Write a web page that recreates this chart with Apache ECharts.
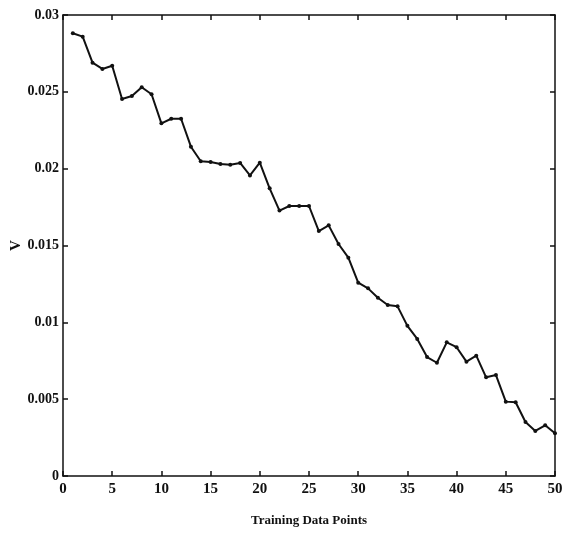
<!DOCTYPE html>
<html>
<head>
<meta charset="utf-8">
<script src="https://cdn.jsdelivr.net/npm/echarts@6/dist/echarts.min.js"></script>
<style>
  html, body { margin: 0; padding: 0; background: #fff; }
  #chart { width: 562px; height: 548px; }
</style>
</head>
<body>
<div id="chart"></div>
<script>
// V per training data point
const pointIndex = [
  1, 2, 3, 4, 5, 6, 7, 8, 9, 10,
  11, 12, 13, 14, 15, 16, 17, 18, 19, 20,
  21, 22, 23, 24, 25, 26, 27, 28, 29, 30,
  31, 32, 33, 34, 35, 36, 37, 38, 39, 40,
  41, 42, 43, 44, 45, 46, 47, 48, 49, 50
];
const vValues = [
  0.02881, 0.02859, 0.0269, 0.02649, 0.0267, 0.02453, 0.02473, 0.0253, 0.02484, 0.02295,
  0.02325, 0.02325, 0.02143, 0.02048, 0.02043, 0.0203, 0.02026, 0.02037, 0.01956, 0.02039,
  0.01872, 0.01727, 0.01757, 0.01757, 0.01757, 0.01594, 0.01631, 0.0151, 0.01421, 0.01258,
  0.01221, 0.0116, 0.01113, 0.01104, 0.00977, 0.00892, 0.00774, 0.00737, 0.0087, 0.00838,
  0.00744, 0.00783, 0.00642, 0.00657, 0.00484, 0.0048, 0.00351, 0.00293, 0.0033, 0.00278
];
const xTicks = [0, 50, 5];       // min, max, interval
const yTicks = [0, 0.03, 0.005];

const FONT = 'Liberation Serif';
const INK = '#111';

const chart = echarts.init(document.getElementById('chart'), null, { renderer: 'canvas' });

const axisCommon = {
  type: 'value',
  axisLine: { show: true, onZero: false, lineStyle: { color: INK, width: 1.5 } },
  axisTick: { show: true, inside: true, length: 5, lineStyle: { color: INK, width: 1.5 } },
  splitLine: { show: false },
  axisLabel: { color: INK, fontFamily: FONT, fontWeight: 'bold', fontSize: 14 }
};

chart.setOption({
  backgroundColor: '#fff',
  animation: false,
  grid: { left: 63, right: 7, top: 15, bottom: 72, containLabel: false, outerBoundsMode: 'none' },
  xAxis: [
    {
      ...axisCommon,
      position: 'bottom',
      min: xTicks[0], max: xTicks[1], interval: xTicks[2],
      axisLabel: { ...axisCommon.axisLabel, fontSize: 15, margin: 6 },
      name: 'Training Data Points',
      nameLocation: 'middle',
      nameGap: 38,
      nameMoveOverlap: false,
      nameTextStyle: { color: INK, fontFamily: FONT, fontWeight: 'bold', fontSize: 13 }
    },
    {
      ...axisCommon,
      position: 'top',
      min: xTicks[0], max: xTicks[1], interval: xTicks[2],
      axisLabel: { show: false }
    }
  ],
  yAxis: [
    {
      ...axisCommon,
      position: 'left',
      min: yTicks[0], max: yTicks[1], interval: yTicks[2],
      axisLabel: { ...axisCommon.axisLabel, margin: 4 },
      name: 'V',
      nameLocation: 'middle',
      nameRotate: 90,
      nameGap: 39,
      nameMoveOverlap: false,
      nameTextStyle: { color: INK, fontFamily: FONT, fontWeight: 'bold', fontSize: 15 }
    },
    {
      ...axisCommon,
      position: 'right',
      min: yTicks[0], max: yTicks[1], interval: yTicks[2],
      axisLabel: { show: false }
    }
  ],
  series: [{
    type: 'line',
    data: pointIndex.map((x, i) => [x, vValues[i]]),
    symbol: 'circle',
    symbolSize: 4,
    showSymbol: true,
    lineStyle: { color: INK, width: 2 },
    itemStyle: { color: INK },
    z: 3
  }]
});
</script>
</body>
</html>
